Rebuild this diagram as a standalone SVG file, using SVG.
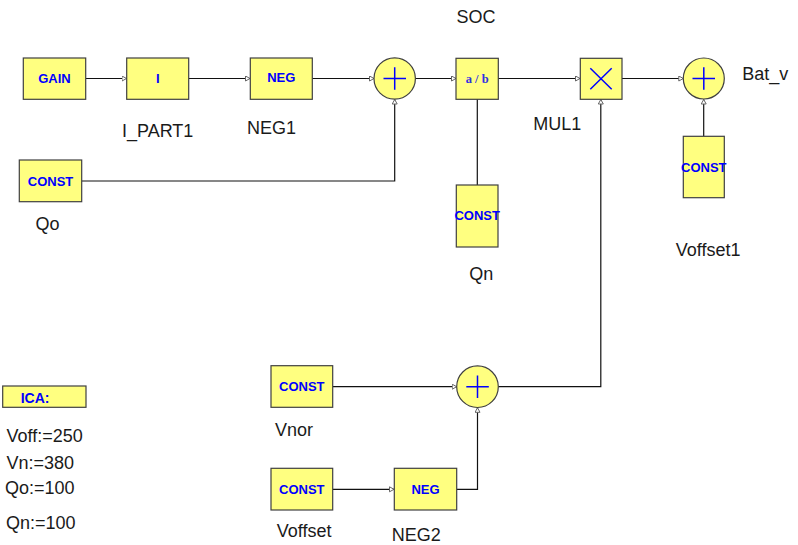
<svg xmlns="http://www.w3.org/2000/svg" width="798" height="545" viewBox="0 0 798 545">
<style>
.box{fill:#FFFF80;stroke:#404040;stroke-width:1.2}
.in{font-family:"Liberation Sans",Arial,sans-serif;font-weight:bold;font-size:13px;fill:#0000FF;text-anchor:middle}
.lbl{font-family:"Liberation Sans",Arial,sans-serif;font-size:18px;fill:#1a1a1a}
.w{fill:none;stroke:#111;stroke-width:1.2}
.sym{stroke:#0000FF;stroke-width:1.5;fill:none}
</style>
<defs>
<marker id="ah" markerWidth="7" markerHeight="7" refX="5" refY="3" orient="auto" markerUnits="userSpaceOnUse">
<path d="M0.5,0.5 L5,3 L0.5,5.5 z" fill="#fff" stroke="#666" stroke-width="1"/>
</marker>
</defs>
<rect width="798" height="545" fill="#fff"/>
<g id="connectors">
<line class="w" x1="86" y1="78.5" x2="126.5" y2="78.5" marker-end="url(#ah)"/>
<line class="w" x1="189" y1="78.5" x2="250" y2="78.5" marker-end="url(#ah)"/>
<line class="w" x1="312" y1="78.5" x2="374" y2="78.5" marker-end="url(#ah)"/>
<polyline class="w" points="82,181 394.7,181 394.7,99.5" marker-end="url(#ah)"/>
<line class="w" x1="415" y1="78.5" x2="456" y2="78.5" marker-end="url(#ah)"/>
<line class="w" x1="477.3" y1="99" x2="477.3" y2="185"/>
<line class="w" x1="498" y1="78.5" x2="580" y2="78.5" marker-end="url(#ah)"/>
<line class="w" x1="622" y1="78.5" x2="683.3" y2="78.5" marker-end="url(#ah)"/>
<line class="w" x1="703.7" y1="136" x2="703.7" y2="99.5" marker-end="url(#ah)"/>
<polyline class="w" points="498.3,386.7 600.8,386.7 600.8,99.5" marker-end="url(#ah)"/>
<line class="w" x1="333" y1="386.7" x2="456.7" y2="386.7" marker-end="url(#ah)"/>
<line class="w" x1="333" y1="489.3" x2="394" y2="489.3" marker-end="url(#ah)"/>
<polyline class="w" points="456.7,489.3 477.5,489.3 477.5,407.8" marker-end="url(#ah)"/>
</g>
<g id="gain"><rect class="box" x="23.3" y="58" width="62.4" height="41.3"/><text class="in" x="54.5" y="83">GAIN</text></g>
<g id="i_part1"><rect class="box" x="126.7" y="58" width="62" height="41.3"/><text class="in" x="157.7" y="83">I</text><text class="lbl" x="122" y="137">I_PART1</text></g>
<g id="neg1"><rect class="box" x="250.3" y="58" width="62" height="41.3"/><text class="in" x="281.3" y="82">NEG</text><text class="lbl" x="247" y="134">NEG1</text></g>
<g id="sum1"><circle class="box" cx="394.7" cy="78.5" r="20.7"/><path class="sym" d="M383.5,78.5 H406 M394.7,67.3 V89.8"/></g>
<g id="qo"><rect class="box" x="19.3" y="160" width="62.4" height="41.7"/><text class="in" x="50.5" y="185.5">CONST</text><text class="lbl" x="35.5" y="230">Qo</text></g>
<g id="soc"><rect class="box" x="456" y="58.3" width="42.3" height="41"/><text x="477.2" y="83" text-anchor="middle" font-family="'Liberation Serif','Times New Roman',serif" font-size="12.5" font-weight="bold" fill="#3030E0">a / b</text><text class="lbl" x="456.5" y="23">SOC</text></g>
<g id="qn"><rect class="box" x="456.3" y="185" width="41.7" height="62"/><text class="in" x="477.2" y="220">CONST</text><text class="lbl" x="469.3" y="280">Qn</text></g>
<g id="mul1"><rect class="box" x="580.3" y="58.3" width="41.7" height="41"/><path class="sym" d="M590.3,68.3 L611.7,89.3 M611.7,68.3 L590.3,89.3"/><text class="lbl" x="533.3" y="130">MUL1</text></g>
<g id="bat_v"><circle class="box" cx="703.8" cy="78.5" r="20.5"/><path class="sym" d="M692.5,78.5 H715 M703.8,67.3 V89.8"/><text class="lbl" x="742.3" y="80">Bat_v</text></g>
<g id="voffset1"><rect class="box" x="683.3" y="136.3" width="41" height="61.4"/><text class="in" x="703.8" y="171.5">CONST</text><text class="lbl" x="675.7" y="256">Voffset1</text></g>
<g id="vnor"><rect class="box" x="271" y="365.7" width="61.7" height="41.6"/><text class="in" x="301.8" y="391">CONST</text><text class="lbl" x="275" y="436">Vnor</text></g>
<g id="sum3"><circle class="box" cx="477.5" cy="386.7" r="20.8"/><path class="sym" d="M466.3,386.7 H488.8 M477.5,375.5 V398"/></g>
<g id="voffset"><rect class="box" x="271" y="468.3" width="61.7" height="41.7"/><text class="in" x="301.8" y="493.5">CONST</text><text class="lbl" x="276.7" y="537">Voffset</text></g>
<g id="neg2"><rect class="box" x="394.3" y="468.3" width="62.4" height="41.7"/><text class="in" x="425.5" y="493.5">NEG</text><text class="lbl" x="391.7" y="541">NEG2</text></g>
<g id="ica"><rect class="box" x="2.7" y="386" width="83.3" height="21.3"/><text x="20.7" y="403" font-family="'Liberation Sans',Arial,sans-serif" font-weight="bold" font-size="14" fill="#0000FF">ICA:</text>
<text class="lbl" x="6.5" y="441.5">Voff:=250</text>
<text class="lbl" x="6.5" y="469">Vn:=380</text>
<text class="lbl" x="5" y="494">Qo:=100</text>
<text class="lbl" x="6" y="529">Qn:=100</text></g>
</svg>
